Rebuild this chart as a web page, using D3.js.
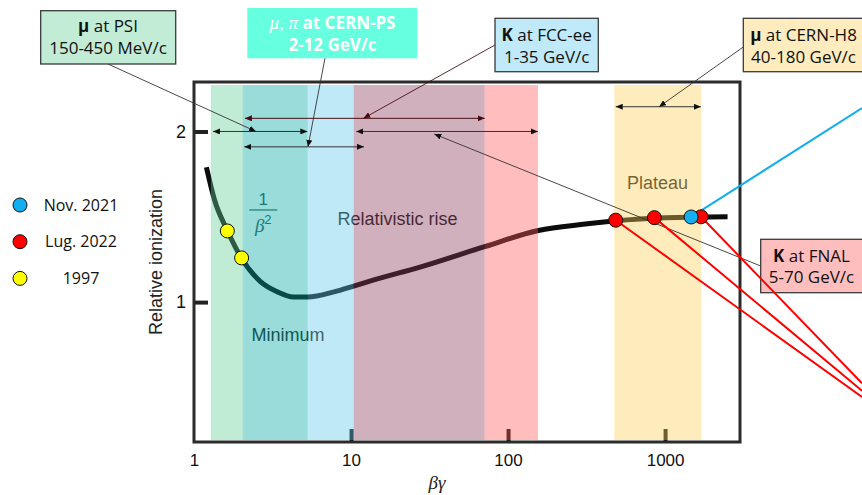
<!DOCTYPE html>
<html>
<head>
	<meta charset="utf-8">
	<title></title>
	<style>
		html, body {
			margin: 0;
			background-color: white;
		}
		svg { display: block; }
		.plot-text { font-family: 'Liberation Sans', Arial, sans-serif; }
		.note-text { font-family: 'Open Sans', sans-serif; }
		.math { font-family: 'Liberation Serif', serif; font-style: italic; }
	</style>
</head>
<body>

<svg class="diagram" width="862" height="495"></svg>

<script src="https://d3js.org/d3.v7.min.js"></script>
<script>

// the ionization curve
var curveBetaGamma = [1.2, 1.35, 1.63, 2.0, 2.65, 3.4, 4.3, 5.3, 7.8, 10.4, 14, 27.5, 71, 156, 300, 470, 1000, 2500]
var curveIonization = [1.79, 1.60, 1.42, 1.26, 1.12, 1.06, 1.03, 1.03, 1.06, 1.094, 1.13, 1.205, 1.325, 1.42, 1.456, 1.475, 1.494, 1.50]

// coloured beta*gamma bands
var bandFrom = [1.28, 2.04, 5.3, 10.4, 71, 475]
var bandTo = [2.04, 5.3, 10.4, 71, 155, 1700]

// beam ranges (double arrows) and where each note points at them
var rangeNames = ['PSI', 'CERN-PS', 'FCC-ee', 'CERN-H8', 'FNAL']
var rangeFrom = [1.32, 2.09, 2.11, 485, 10.8]
var rangeTo = [5.27, 12.1, 71, 1690, 155]
var rangeLevel = [2.0, 1.91, 2.077, 2.145, 2.0]
var pointerBetaGamma = [2.48, 5.32, 12, 916, 33.9]
var pointerLevel = [2.0, 1.91, 2.077, 2.145, 1.985]

// note texts: bold particle, rest of first line, second line
var noteParticle = ['μ', 'μ, π', 'K', 'μ', 'K']
var noteWhere = [' at PSI', ' at CERN-PS', ' at FCC-ee', ' at CERN-H8', ' at FNAL']
var noteMomentum = ['150-450 MeV/c', '2-12 GeV/c', '1-35 GeV/c', '40-180 GeV/c', '5-70 GeV/c']

// measurements
var nov2021BetaGamma = [1465]
var nov2021Ionization = [1.499]
var lug2022BetaGamma = [485, 855, 1695]
var lug2022Ionization = [1.48, 1.495, 1.50]
var y1997BetaGamma = [1.63, 2.01]
var y1997Ionization = [1.417, 1.259]

var legendLabels = ['Nov. 2021', 'Lug. 2022', '1997']
var xTicks = [1, 10, 100, 1000]
var yTicks = [1, 2]
var regionLabels = ['Minimum', 'Relativistic rise', 'Plateau']


var cfg = {
	left: 194, right: 740, top: 82, bottom: 442,
	xDomain: [1, 3000],
	yDomain: [0.18, 2.29],

	bandColors: ['#61cd94', '#00a7a0', '#61c8ed', '#893957', '#ff5a5a', '#ffcf5a'],
	bandOpacity: 0.4,

	// region labels, anchored in data space
	regionAt: [[3.97, 0.807], [19.8, 1.49], [896, 1.70]],
	fracAt: [2.76, 1.54],

	// note boxes, in pixels
	notes: [
		{ box: [40.7, 10.7, 135, 53.3], fill: '#c3ecd6', stroke: true, cx: 108, ly: [26.5, 48.5], from: [108, 64] },
		{ box: [247.3, 8, 170, 50.3], fill: '#66ffe0', stroke: false, cx: 332.5, ly: [22.7, 45], from: [325, 58], white: true },
		{ box: [495, 18.3, 103.3, 53.4], fill: '#c0e9f9', stroke: true, cx: 546.7, ly: [35, 56.7], from: [495, 45] },
		{ box: [743.3, 18.3, 121, 53.4], fill: '#feecbe', stroke: true, cx: 803.5, ly: [35, 56.7], from: [743.3, 47] },
		{ box: [760.7, 239.3, 104, 53.4], fill: '#ffbebe', stroke: true, cx: 811.5, ly: [255.7, 277.3], from: [760.7, 266] }
	],
	rangeColors: ['#333', '#333', '#4a1018', '#333', '#333'],

	// where the measurement lines leave the slide
	blueLinkTo: [862, 108],
	redLinkTo: [[862, 397], [862, 390.7], [862, 383.3]],

	colors: { nov2021: '#12aef0', lug2022: '#ff0000', y1997: '#ffff00' },
	legend: { x: 20, y: 205, dy: 36.7, textX: 81 },
	pointR: 7
}

var svg = d3.select('.diagram')

var x = d3.scaleLog().domain(cfg.xDomain).range([cfg.left, cfg.right])
var y = d3.scaleLinear().domain(cfg.yDomain).range([cfg.bottom, cfg.top])

// arrow heads
var defs = svg.append('defs')
function marker(id, color) {
	defs.append('marker')
		.attr('id', id)
		.attr('viewBox', '0 0 7 6')
		.attr('refX', 7).attr('refY', 3)
		.attr('markerUnits', 'userSpaceOnUse')
		.attr('markerWidth', 7).attr('markerHeight', 6)
		.attr('orient', 'auto-start-reverse')
		.append('path')
			.attr('d', 'M0,0 L7,3 L0,6 Z')
			.attr('fill', color)
}
marker('head-dark', '#111')
marker('head-red', '#4a0a12')

//
// things that sit under the translucent bands
//
var under = svg.append('g')

// axes, ticks pointing inwards
var xAxis = under.append('g')
	.attr('class', 'plot-text')
	.attr('transform', 'translate(0,' + cfg.bottom + ')')
	.call(d3.axisBottom(x).tickValues(xTicks).tickFormat(d3.format('d'))
		.tickSizeInner(-13).tickSizeOuter(0).tickPadding(12))
xAxis.select('.domain').remove()
xAxis.selectAll('.tick line').attr('stroke', '#111').attr('stroke-width', 4)
	.filter(function(d) { return d === 1 }).remove()
xAxis.selectAll('.tick text').attr('font-size', 17).attr('fill', '#111')

var yAxis = under.append('g')
	.attr('class', 'plot-text')
	.attr('transform', 'translate(' + cfg.left + ',0)')
	.call(d3.axisLeft(y).tickValues(yTicks).tickFormat(d3.format('d'))
		.tickSizeInner(-14).tickSizeOuter(0).tickPadding(8))
yAxis.select('.domain').remove()
yAxis.selectAll('.tick line').attr('stroke', '#222').attr('stroke-width', 4)
yAxis.selectAll('.tick text').attr('font-size', 18).attr('fill', '#111')

// the curve
var curvePoints = curveBetaGamma.map(function(b, i) { return [b, curveIonization[i]] })
under.append('path')
	.datum(curvePoints)
	.attr('fill', 'none')
	.attr('stroke', '#0c0c0c')
	.attr('stroke-width', 5)
	.attr('d', d3.line()
		.x(function(p) { return x(p[0]) })
		.y(function(p) { return y(p[1]) })
		.curve(d3.curveMonotoneX))

// region names
under.selectAll('.region')
	.data(regionLabels)
	.enter().append('text')
		.attr('class', 'plot-text')
		.attr('x', function(d, i) { return x(cfg.regionAt[i][0]) })
		.attr('y', function(d, i) { return y(cfg.regionAt[i][1]) })
		.attr('dy', '0.35em')
		.attr('text-anchor', 'middle')
		.attr('font-size', 18)
		.attr('fill', '#1a1a1a')
		.text(function(d) { return d })

// 1 / beta^2
var fx = x(cfg.fracAt[0]), fy = y(cfg.fracAt[1])
var frac = under.append('g').attr('fill', '#2f5a60')
frac.append('text')
	.attr('class', 'plot-text')
	.attr('x', fx).attr('y', fy - 5)
	.attr('text-anchor', 'middle').attr('font-size', 17)
	.text('1')
frac.append('line')
	.attr('x1', fx - 14).attr('x2', fx + 14)
	.attr('y1', fy).attr('y2', fy)
	.attr('stroke', '#2f5a60').attr('stroke-width', 1.2)
var beta = frac.append('text')
	.attr('x', fx).attr('y', fy + 22)
	.attr('text-anchor', 'middle')
beta.append('tspan').attr('class', 'math').attr('font-size', 19).text('β')
beta.append('tspan').attr('class', 'plot-text').attr('font-size', 13).attr('dy', -8).text('2')

// the bands
svg.append('g').selectAll('rect')
	.data(bandFrom)
	.enter().append('rect')
		.attr('x', function(d) { return x(d) })
		.attr('width', function(d, i) { return x(bandTo[i]) - x(d) })
		.attr('y', cfg.top + 3)
		.attr('height', cfg.bottom - cfg.top - 5)
		.attr('fill', function(d, i) { return cfg.bandColors[i] })
		.attr('fill-opacity', cfg.bandOpacity)

// frame
svg.append('rect')
	.attr('x', cfg.left).attr('y', cfg.top)
	.attr('width', cfg.right - cfg.left).attr('height', cfg.bottom - cfg.top)
	.attr('fill', 'none')
	.attr('stroke', '#2b2b2b')
	.attr('stroke-width', 3)

//
// beam ranges and their notes
//
var ranges = svg.append('g').selectAll('.range')
	.data(rangeNames)
	.enter().append('g')
		.attr('class', 'range')

ranges.append('line')
	.attr('x1', function(d, i) { return x(rangeFrom[i]) })
	.attr('x2', function(d, i) { return x(rangeTo[i]) })
	.attr('y1', function(d, i) { return y(rangeLevel[i]) })
	.attr('y2', function(d, i) { return y(rangeLevel[i]) })
	.attr('stroke', function(d, i) { return cfg.rangeColors[i] })
	.attr('stroke-width', 1)
	.attr('marker-start', function(d, i) { return i === 2 ? 'url(#head-red)' : 'url(#head-dark)' })
	.attr('marker-end', function(d, i) { return i === 2 ? 'url(#head-red)' : 'url(#head-dark)' })

ranges.append('line')
	.attr('x1', function(d, i) { return cfg.notes[i].from[0] })
	.attr('y1', function(d, i) { return cfg.notes[i].from[1] })
	.attr('x2', function(d, i) { return x(pointerBetaGamma[i]) })
	.attr('y2', function(d, i) { return y(pointerLevel[i]) })
	.attr('stroke', function(d, i) { return cfg.rangeColors[i] })
	.attr('stroke-width', 0.9)
	.attr('marker-end', function(d, i) { return i === 2 ? 'url(#head-red)' : 'url(#head-dark)' })

ranges.append('rect')
	.attr('x', function(d, i) { return cfg.notes[i].box[0] })
	.attr('y', function(d, i) { return cfg.notes[i].box[1] })
	.attr('width', function(d, i) { return cfg.notes[i].box[2] })
	.attr('height', function(d, i) { return cfg.notes[i].box[3] })
	.attr('fill', function(d, i) { return cfg.notes[i].fill })
	.attr('stroke', function(d, i) { return cfg.notes[i].stroke ? '#3a3a3a' : 'none' })
	.attr('stroke-width', 1.3)

var firstLine = ranges.append('text')
	.attr('class', 'note-text')
	.attr('x', function(d, i) { return cfg.notes[i].cx })
	.attr('y', function(d, i) { return cfg.notes[i].ly[0] })
	.attr('dy', '0.35em')
	.attr('text-anchor', 'middle')
	.attr('font-size', 17)
	.attr('fill', function(d, i) { return cfg.notes[i].white ? 'white' : '#111' })
firstLine.append('tspan')
	.attr('class', function(d, i) { return cfg.notes[i].white ? 'math' : null })
	.attr('font-weight', function(d, i) { return cfg.notes[i].white ? 'normal' : 'bold' })
	.attr('font-size', function(d, i) { return cfg.notes[i].white ? 19 : 17 })
	.text(function(d, i) { return noteParticle[i] })
firstLine.append('tspan')
	.attr('font-weight', function(d, i) { return cfg.notes[i].white ? 'bold' : 'normal' })
	.text(function(d, i) { return noteWhere[i] })

ranges.append('text')
	.attr('class', 'note-text')
	.attr('x', function(d, i) { return cfg.notes[i].cx })
	.attr('y', function(d, i) { return cfg.notes[i].ly[1] })
	.attr('dy', '0.35em')
	.attr('text-anchor', 'middle')
	.attr('font-size', 17)
	.attr('font-weight', function(d, i) { return cfg.notes[i].white ? 'bold' : 'normal' })
	.attr('fill', function(d, i) { return cfg.notes[i].white ? 'white' : '#111' })
	.text(function(d, i) { return noteMomentum[i] })

//
// measurements
//
var points = svg.append('g')

// lines out to the photos off the slide
points.selectAll('.red-link')
	.data(lug2022BetaGamma)
	.enter().append('line')
		.attr('x1', function(d) { return x(d) })
		.attr('y1', function(d, i) { return y(lug2022Ionization[i]) })
		.attr('x2', function(d, i) { return cfg.redLinkTo[i][0] })
		.attr('y2', function(d, i) { return cfg.redLinkTo[i][1] })
		.attr('stroke', cfg.colors.lug2022)
		.attr('stroke-width', 2)
points.selectAll('.blue-link')
	.data(nov2021BetaGamma)
	.enter().append('line')
		.attr('x1', function(d) { return x(d) })
		.attr('y1', function(d, i) { return y(nov2021Ionization[i]) })
		.attr('x2', cfg.blueLinkTo[0])
		.attr('y2', cfg.blueLinkTo[1])
		.attr('stroke', cfg.colors.nov2021)
		.attr('stroke-width', 2)

function dots(bg, ion, color) {
	points.append('g').selectAll('circle')
		.data(bg)
		.enter().append('circle')
			.attr('cx', function(d) { return x(d) })
			.attr('cy', function(d, i) { return y(ion[i]) })
			.attr('r', cfg.pointR)
			.attr('fill', color)
			.attr('stroke', '#111')
			.attr('stroke-width', 1)
}
dots(y1997BetaGamma, y1997Ionization, cfg.colors.y1997)
dots(lug2022BetaGamma, lug2022Ionization, cfg.colors.lug2022)
dots(nov2021BetaGamma, nov2021Ionization, cfg.colors.nov2021)

// legend
var legendColors = [cfg.colors.nov2021, cfg.colors.lug2022, cfg.colors.y1997]
var legend = svg.append('g').selectAll('.legend')
	.data(legendLabels)
	.enter().append('g')
		.attr('transform', function(d, i) { return 'translate(0,' + (cfg.legend.y + i * cfg.legend.dy) + ')' })
legend.append('circle')
	.attr('cx', cfg.legend.x)
	.attr('r', cfg.pointR)
	.attr('fill', function(d, i) { return legendColors[i] })
	.attr('stroke', '#111')
legend.append('text')
	.attr('class', 'note-text')
	.attr('x', cfg.legend.textX)
	.attr('dy', '0.35em')
	.attr('text-anchor', 'middle')
	.attr('font-size', 16)
	.attr('fill', '#111')
	.text(function(d) { return d })

// axis titles
svg.append('text')
	.attr('class', 'plot-text')
	.attr('transform', 'translate(156,262) rotate(-90)')
	.attr('dy', '0.35em')
	.attr('text-anchor', 'middle')
	.attr('font-size', 18)
	.attr('fill', '#222')
	.text('Relative ionization')

svg.append('text')
	.attr('class', 'math')
	.attr('x', 437).attr('y', 489)
	.attr('text-anchor', 'middle')
	.attr('font-size', 19)
	.attr('fill', '#222')
	.text('βγ')

</script>

</body>
</html>
